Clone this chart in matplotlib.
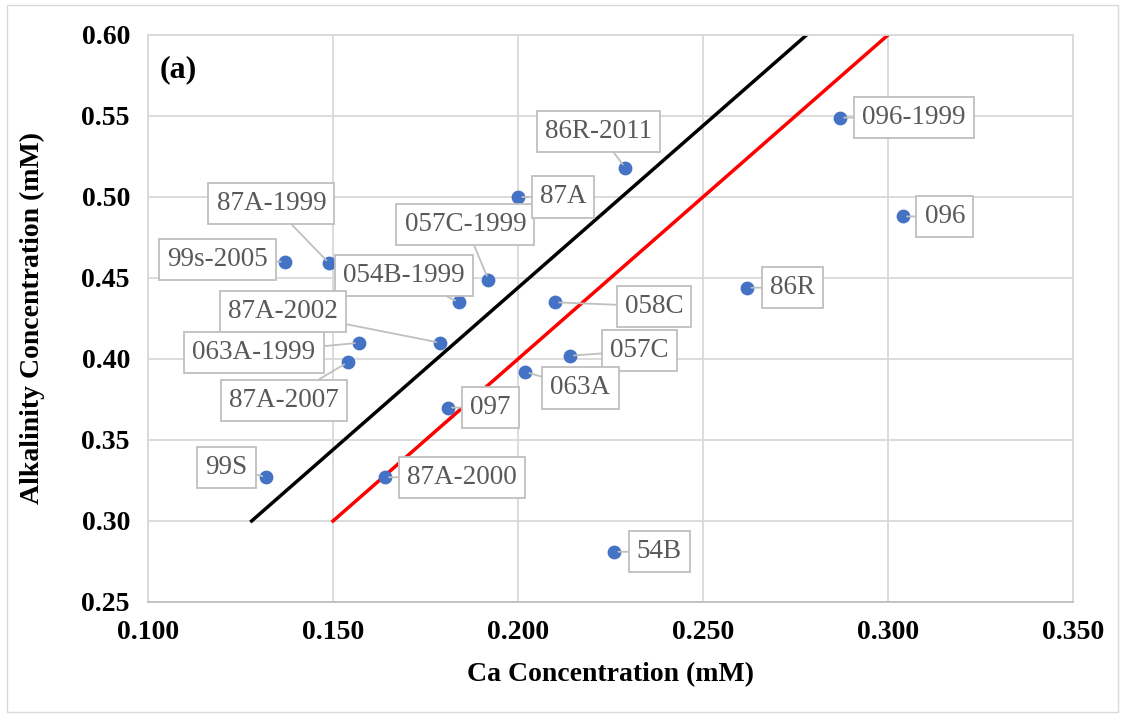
import matplotlib.pyplot as plt
from matplotlib.patches import Rectangle

# sample points: Ca vs alkalinity (mM)
names = ["99s-2005", "87A-1999", "054B-1999", "057C-1999", "87A", "86R-2011",
         "096-1999", "096", "86R", "058C", "87A-2002", "063A-1999", "87A-2007",
         "057C", "063A", "097", "99S", "87A-2000", "54B"]
ca = [0.137, 0.149, 0.184, 0.192, 0.200, 0.229,
      0.287, 0.304, 0.262, 0.210, 0.179, 0.157, 0.154,
      0.214, 0.202, 0.181, 0.132, 0.164, 0.226]
alk = [0.460, 0.459, 0.435, 0.449, 0.500, 0.518,
       0.549, 0.488, 0.444, 0.435, 0.410, 0.410, 0.398,
       0.402, 0.392, 0.370, 0.327, 0.327, 0.281]

# label box offsets (pixels) from each point
offsets = [(-67, 2), (-58, 60), (-55, 27), (-23, 55), (45, 0), (-27, 36),
           (74, 0), (42, 0), (45, 0), (99, -4), (-157, 31), (-105, -10), (-64, -38),
           (70, 5), (55, -16), (43, 0), (-40, 10), (77, 0), (45, 0)]

# reference lines
black_x = [0.128, 0.278]
black_y = [0.30, 0.60]
red_x = [0.150, 0.300]
red_y = [0.30, 0.60]

plt.rcParams['font.family'] = ['Liberation Serif', 'DejaVu Serif']

fig = plt.figure(figsize=(11.24, 7.17), dpi=100)
fig.patches.append(Rectangle((0.006, 0.007), 0.989, 0.986, transform=fig.transFigure,
                             fill=False, edgecolor='#d9d9d9', lw=1))
ax = fig.add_axes([0.1317, 0.1604, 0.8229, 0.7908])

ax.set_xlim(0.100, 0.350)
ax.set_ylim(0.25, 0.60)
ax.set_xticks([0.100, 0.150, 0.200, 0.250, 0.300, 0.350])
ax.set_yticks([0.25, 0.30, 0.35, 0.40, 0.45, 0.50, 0.55, 0.60])
ax.xaxis.set_major_formatter(plt.FormatStrFormatter('%.3f'))
ax.yaxis.set_major_formatter(plt.FormatStrFormatter('%.2f'))
ax.grid(True, color='#d9d9d9', lw=1.3)
ax.set_axisbelow(True)
for s in ax.spines.values():
    s.set_color('#d9d9d9')
    s.set_linewidth(1.3)
ax.spines['bottom'].set_color('#bfbfbf')
ax.tick_params(length=0, labelsize=20, pad=13)
for lab in ax.get_xticklabels() + ax.get_yticklabels():
    lab.set_fontweight('bold')

ax.plot(black_x, black_y, color='black', lw=2.5, zorder=2)
ax.plot(red_x, red_y, color='#ff0000', lw=2.5, zorder=2)
ax.scatter(ca, alk, s=80, color='#4472c4', zorder=3)

for n, x, y, (dx, dy) in zip(names, ca, alk, offsets):
    ax.annotate(n, (x, y), xytext=(dx, dy), textcoords='offset pixels',
                ha='center', va='center', fontsize=19.5, color='#595959', zorder=4,
                bbox=dict(boxstyle='square,pad=0.3', fc='white', ec='#bfbfbf', lw=1.3),
                arrowprops=dict(arrowstyle='-', color='#bfbfbf', lw=1.3,
                                shrinkA=0, shrinkB=3))

ax.text(0.012, 0.965, '(a)', transform=ax.transAxes, fontsize=23,
        fontweight='bold', va='top', ha='left')
ax.set_xlabel('Ca Concentration (mM)', fontsize=20, fontweight='bold', labelpad=12)
ax.set_ylabel('Alkalinity Concentration (mM)', fontsize=20, fontweight='bold', labelpad=26)

fig.savefig('out.png', dpi=100)
